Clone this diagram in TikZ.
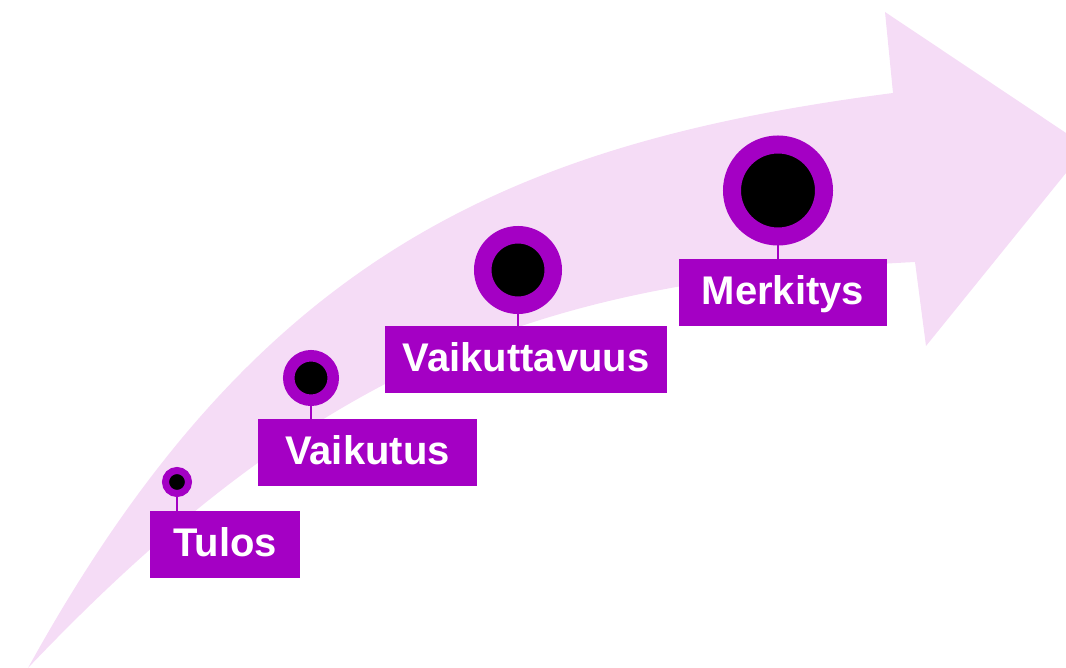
\documentclass[tikz,border=0pt]{standalone}
\usepackage{fontspec}
\setmainfont{Liberation Sans}
\definecolor{steppurple}{RGB}{164,0,196}
\definecolor{arrowpink}{RGB}{245,220,246}
\tikzset{
  labelbox/.style={fill=steppurple,text=white,font=\bfseries\fontsize{40}{40}\selectfont,
    minimum height=67pt,inner sep=0pt,text height=26pt,text depth=2pt},
  ring/.style={circle,fill=black,draw=steppurple,inner sep=0pt},
  stem/.style={draw=steppurple,line width=2.5pt}
}
\begin{document}
\begin{tikzpicture}[x=1pt,y=-1pt]
  \useasboundingbox (0,0) rectangle (1066,668);
  \clip (0,0) rectangle (1066,668);
  % big curved arrow
  \fill[arrowpink] (28,668) .. controls (254,258) and (507,143) .. (893,93) -- (885,12) -- (1087,147)
    -- (926,346) -- (915,262) .. controls (560,280) and (330,350) .. (28,668) -- cycle;
  % labels
  \node[labelbox,minimum width=150pt] (tulos) at (225,544.5) {Tulos};
  \node[labelbox,minimum width=219pt] (vaikutus) at (367.5,452.5) {Vaikutus};
  \node[labelbox,minimum width=282pt] (vaikuttavuus) at (526,359.5) {Vaikuttavuus};
  \node[labelbox,minimum width=208pt] (merkitys) at (783,292.5) {Merkitys};
  % rings
  \node[ring,minimum size=23pt,line width=7pt] (r1) at (177,482) {};
  \node[ring,minimum size=44.5pt,line width=11.5pt] (r2) at (311,378) {};
  \node[ring,minimum size=70.5pt,line width=17.5pt] (r3) at (518,270) {};
  \node[ring,minimum size=92pt,line width=18pt] (r4) at (778,190.5) {};
  \draw[stem] (r1.south) -- (r1.south |- tulos.north);
  \draw[stem] (r2.south) -- (r2.south |- vaikutus.north);
  \draw[stem] (r3.south) -- (r3.south |- vaikuttavuus.north);
  \draw[stem] (r4.south) -- (r4.south |- merkitys.north);
\end{tikzpicture}
\end{document}
